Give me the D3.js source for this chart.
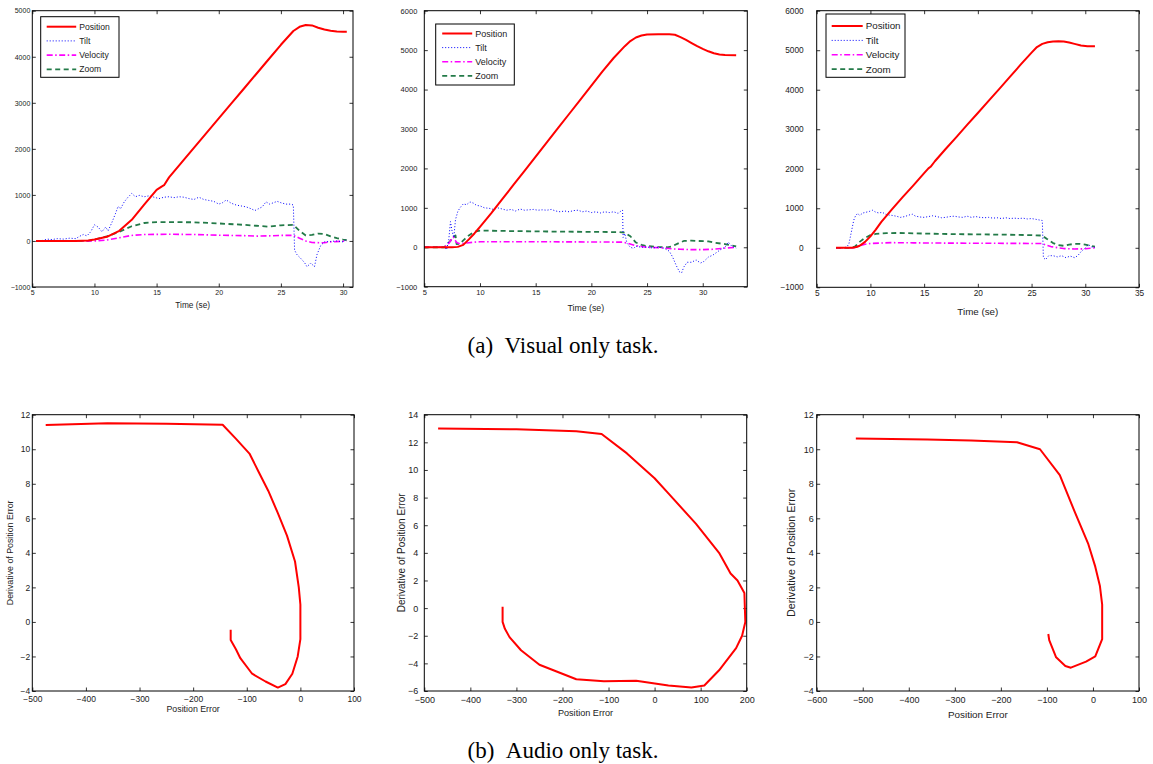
<!DOCTYPE html>
<html>
<head>
  <meta charset="UTF-8">
  <title>Visual and audio only tasks</title>
  <style>
    body {
      margin: 0;
      padding: 0;
      background: #fff;
    }
    svg text {
      font-family: "Liberation Sans", Arial, Helvetica, sans-serif;
      fill: #222;
    }
    .caption {
      font-family: "Liberation Serif", "Times New Roman", serif !important;
      fill: #000 !important;
    }
  </style>
</head>
<body>
  <script src="https://d3js.org/d3.v7.min.js"></script>
  <script>
    // ---- data: (a) visual only task, [time, value]
    let pos1 = [[5.3,0],[8.5,0],[9.5,10],[10,30],[11,90],[12,220],[13,460],[14,790],[15,1110],[15.4,1180],[15.6,1210],[16,1380],[17,1700],[18,2020],[19,2340],[20,2660],[21,2980],[22,3300],[23,3620],[24,3940],[25,4260],[26,4560],[26.5,4650],[27,4688],[27.5,4680],[28,4630],[28.5,4590],[29,4565],[29.5,4550],[30,4545],[30.3,4545]];
    let tilt1 = [[5.3,0],[5.8,10],[6.2,40],[6.6,30],[7,50],[7.5,40],[8,60],[8.5,50],[8.8,100],[9.1,140],[9.4,110],[9.7,200],[10,350],[10.3,300],[10.6,200],[10.9,300],[11.1,220],[11.4,400],[11.7,600],[11.9,750],[12.1,700],[12.4,850],[12.7,950],[13,1030],[13.3,960],[13.6,990],[14,960],[14.4,980],[14.8,950],[15.2,920],[15.6,950],[16,960],[16.4,940],[16.8,960],[17.2,950],[17.6,920],[18,900],[18.4,950],[18.8,900],[19.2,880],[19.6,860],[20,800],[20.3,830],[20.6,890],[21,820],[21.4,780],[21.8,760],[22.2,740],[22.6,700],[22.9,660],[23.2,700],[23.5,740],[23.8,850],[24.1,800],[24.4,830],[24.7,860],[25,830],[25.4,800],[25.8,800],[26,780],[26.1,-200],[26.3,-300],[26.6,-380],[26.9,-470],[27.1,-560],[27.4,-480],[27.7,-560],[27.9,-300],[28.2,-100],[28.5,-20],[29,-10],[29.5,0],[30,-20],[30.3,40]];
    let vel1 = [[5.3,0],[10,0],[11,20],[12,70],[13,120],[14,140],[16,145],[18,140],[20,125],[22,115],[23,105],[24,110],[25,120],[26,120],[26.5,60],[27,0],[27.5,-35],[28.5,-40],[29,-20],[30,-5],[30.3,0]];
    let zoom1 = [[5.3,0],[9.5,0],[10,30],[11,100],[12,200],[13,320],[14,390],[15,410],[16,410],[18,405],[20,380],[22,350],[23,330],[24,310],[25,340],[26,350],[26.5,220],[27,120],[27.5,130],[28,160],[28.5,150],[29,100],[29.5,60],[30,30],[30.3,20]];

    let pos2 = [[5,0],[7.5,0],[8,10],[8.5,60],[9,200],[9.5,350],[10,520],[11,860],[12,1220],[13,1580],[14,1940],[15,2300],[16,2660],[17,3020],[18,3380],[19,3740],[20,4100],[21,4460],[22,4800],[23,5100],[23.5,5230],[24,5320],[24.5,5370],[25,5395],[26,5400],[27,5400],[27.5,5390],[28,5330],[28.5,5260],[29,5180],[29.5,5100],[30,5030],[30.5,4970],[31,4920],[31.5,4890],[32,4875],[33,4870]];
    let tilt2 = [[5,0],[6,0],[6.8,0],[7,-60],[7.2,200],[7.35,650],[7.5,400],[7.65,250],[7.8,700],[8,900],[8.2,1000],[8.5,1100],[8.8,1080],[9.1,1150],[9.4,1120],[9.7,1060],[10,1050],[10.4,1000],[10.8,990],[11.2,960],[11.6,1000],[12,970],[12.4,940],[12.8,960],[13.2,920],[13.6,970],[14,940],[14.4,950],[14.8,960],[15.2,940],[15.6,950],[16,940],[16.4,960],[16.8,920],[17.2,900],[17.6,920],[18,900],[18.4,930],[18.8,940],[19.2,900],[19.6,920],[20,880],[20.4,900],[20.8,870],[21.2,900],[21.6,880],[22,900],[22.4,860],[22.7,930],[22.8,940],[22.85,250],[23,350],[23.2,100],[23.5,0],[23.8,-30],[24,30],[24.5,0],[25,10],[25.5,-20],[26,0],[26.5,-20],[27,-100],[27.3,-250],[27.6,-450],[27.9,-620],[28.1,-650],[28.3,-500],[28.6,-380],[29,-380],[29.4,-320],[29.8,-400],[30.1,-360],[30.5,-250],[30.9,-200],[31.3,-120],[31.6,-60],[32,0],[32.3,130],[32.6,30],[33,-20]];
    let vel2 = [[5,0],[6.8,0],[7.2,100],[7.6,260],[7.9,120],[8.2,90],[8.8,110],[9.5,130],[10,140],[15,140],[20,135],[22.8,130],[23.3,100],[24,40],[24.5,20],[25,0],[26,-10],[27,-30],[27.5,-45],[28,-50],[29,-60],[30,-60],[31,-50],[32,-20],[33,0]];
    let zoom2 = [[5,0],[6.8,0],[7.3,150],[7.6,250],[7.8,300],[7.9,80],[8.2,90],[8.6,200],[9,300],[9.5,390],[10,420],[11,420],[13,410],[16,400],[20,390],[22.5,385],[23,370],[23.5,280],[24,120],[24.5,60],[25,30],[26,10],[26.8,0],[27.2,20],[27.8,100],[28.3,160],[29,170],[29.5,160],[30.5,150],[31,120],[32,80],[33,20]];

    let pos3 = [[6.8,0],[8.3,0],[8.7,20],[9,50],[9.5,150],[10,290],[10.5,460],[11,650],[12,970],[13,1280],[14,1580],[15,1890],[15.4,2010],[15.6,2050],[16,2190],[17,2500],[18,2800],[19,3110],[20,3410],[21,3720],[22,4020],[23,4330],[24,4640],[25,4940],[25.5,5080],[26,5160],[26.5,5200],[27,5220],[27.5,5225],[28,5220],[28.5,5195],[29,5160],[29.6,5120],[30.2,5100],[30.9,5100]];
    let tilt3 = [[6.8,0],[7.5,0],[7.8,20],[8,100],[8.15,300],[8.3,500],[8.45,700],[8.6,800],[8.8,870],[9,820],[9.3,880],[9.6,900],[9.9,920],[10.2,950],[10.5,900],[10.8,880],[11.1,900],[11.4,850],[11.7,830],[12,820],[12.4,800],[12.8,770],[13.2,790],[13.6,830],[13.9,850],[14.2,800],[14.6,780],[15,770],[15.4,790],[15.8,810],[16.2,790],[16.6,760],[17,770],[17.4,790],[17.8,800],[18.2,780],[18.6,770],[19,800],[19.4,770],[19.8,790],[20.2,770],[20.6,760],[21,770],[21.4,750],[21.8,760],[22.2,740],[22.6,760],[23,740],[23.4,750],[23.8,740],[24.2,750],[24.6,730],[25,740],[25.4,720],[25.8,700],[26,690],[26.1,-250],[26.3,-300],[26.6,-200],[27,-200],[27.4,-230],[27.8,-200],[28.2,-250],[28.6,-210],[29,-250],[29.3,-200],[29.6,-100],[30,0],[30.3,80],[30.6,20],[30.9,0]];
    let vel3 = [[6.8,0],[8.5,0],[9,50],[9.5,90],[10,110],[11,120],[12,130],[14,125],[16,120],[20,115],[25,110],[26,110],[26.3,70],[26.8,30],[27.5,0],[28,-20],[29,-30],[30,-25],[30.9,0]];
    let zoom3 = [[6.8,0],[8.3,0],[8.6,40],[9,150],[9.5,250],[10,320],[10.5,350],[11.5,370],[12.5,375],[15,360],[18,345],[20,340],[23,330],[25,320],[26,310],[26.4,230],[27,120],[27.5,70],[28,50],[28.5,80],[29,100],[29.5,100],[30,80],[30.5,50],[30.9,30]];

    // ---- data: (b) audio only task, [position error, derivative]
    let phase1 = [[-475,11.4],[-360,11.5],[-250,11.47],[-145,11.42],[-120,10.6],[-95,9.75],[-78,8.7],[-60,7.6],[-42,6.3],[-25,5],[-10,3.5],[-3,2],[0,1],[0,-1],[-5,-2],[-15,-3],[-28,-3.6],[-42,-3.8],[-65,-3.45],[-90,-3],[-112,-2.1],[-120,-1.6],[-130,-1.05],[-130,-0.45]];
    let phase2 = [[-470,13.0],[-300,12.95],[-170,12.8],[-115,12.6],[-60,11.2],[0,9.4],[30,8.3],[90,6.1],[140,4],[165,2.5],[180,2],[195,1.1],[197,-1],[190,-2],[177,-2.9],[140,-4.5],[108,-5.6],[80,-5.75],[30,-5.6],[-40,-5.25],[-110,-5.3],[-170,-5.15],[-250,-4.1],[-290,-3.05],[-315,-2.1],[-325,-1.5],[-330,-1.0],[-330,0.1]];
    let phase3 = [[-515,10.62],[-360,10.56],[-265,10.5],[-165,10.4],[-115,10.0],[-72,8.5],[-40,6.4],[-10,4.5],[5,3.2],[15,2.1],[20,1],[20,-1],[5,-2],[-15,-2.3],[-48,-2.65],[-60,-2.55],[-80,-2.05],[-95,-1.05],[-97,-0.7]];

    // ---- ticks
    let timeTicks1 = [5, 10, 15, 20, 25, 30];
    let timeTicks3 = [5, 10, 15, 20, 25, 30, 35];
    let valTicks5 = [-1000, 0, 1000, 2000, 3000, 4000, 5000];
    let valTicks6 = [-1000, 0, 1000, 2000, 3000, 4000, 5000, 6000];
    let errTicks1 = [-500, -400, -300, -200, -100, 0, 100];
    let errTicks2 = [-500, -400, -300, -200, -100, 0, 100, 200];
    let errTicks3 = [-600, -500, -400, -300, -200, -100, 0, 100];
    let derTicks12 = [-4, -2, 0, 2, 4, 6, 8, 10, 12];
    let derTicks14 = [-6, -4, -2, 0, 2, 4, 6, 8, 10, 12, 14];

    let seriesNames = ["Position", "Tilt", "Velocity", "Zoom"];
    let captions = ["(a)\u2002Visual only task.", "(b)\u2002Audio only task."];

    let styles = {
      Position: { color: "#ff0000", width: 2, dash: null },
      Tilt: { color: "#0000ff", width: 1, dash: "1,2" },
      Velocity: { color: "#ff00ff", width: 1.6, dash: "6,2.5,1.5,2.5" },
      Zoom: { color: "#237a48", width: 1.8, dash: "5,3.5" }
    };

    let width = 1153, height = 764;
    let svg = d3.select("body").append("svg")
        .attr("width", width)
        .attr("height", height);

    function panel(p) {
      let x = d3.scaleLinear().domain(p.xd).range([p.x0, p.x1]);
      let y = d3.scaleLinear().domain(p.yd).range([p.y1, p.y0]);
      let g = svg.append("g");
      let fmt = d3.format("d");

      // inward ticks on all four sides, labels left and bottom only
      g.append("g").attr("transform", "translate(0," + p.y1 + ")")
        .call(d3.axisBottom(x).tickValues(p.xt).tickFormat(fmt).tickSizeInner(-3.5).tickSizeOuter(0).tickPadding(p.xpad))
        .call(a => a.selectAll("text").style("font-size", p.font + "px"));
      g.append("g").attr("transform", "translate(0," + p.y0 + ")")
        .call(d3.axisTop(x).tickValues(p.xt).tickFormat("").tickSizeInner(-3.5).tickSizeOuter(0));
      g.append("g").attr("transform", "translate(" + p.x0 + ",0)")
        .call(d3.axisLeft(y).tickValues(p.yt).tickFormat(fmt).tickSizeInner(-3.5).tickSizeOuter(0).tickPadding(p.ypad))
        .call(a => a.selectAll("text").style("font-size", p.font + "px"));
      g.append("g").attr("transform", "translate(" + p.x1 + ",0)")
        .call(d3.axisRight(y).tickValues(p.yt).tickFormat("").tickSizeInner(-3.5).tickSizeOuter(0));
      g.selectAll(".domain").remove();
      g.selectAll(".tick line").attr("stroke", "#000").attr("stroke-width", 0.8);

      let line = d3.line().x(d => x(d[0])).y(d => y(d[1]));
      p.series.forEach(s => {
        let st = styles[s.name];
        g.append("path")
          .datum(s.data)
          .attr("d", line)
          .attr("fill", "none")
          .attr("stroke", st.color)
          .attr("stroke-width", st.width)
          .attr("stroke-dasharray", st.dash)
          .attr("stroke-linejoin", "round");
      });

      g.append("rect")
        .attr("x", p.x0).attr("y", p.y0)
        .attr("width", p.x1 - p.x0).attr("height", p.y1 - p.y0)
        .attr("fill", "none").attr("stroke", "#000").attr("stroke-width", 1);

      g.append("text")
        .attr("x", (p.x0 + p.x1) / 2).attr("y", p.xlabY)
        .attr("text-anchor", "middle")
        .style("font-size", p.labFont + "px")
        .text(p.xlab);

      if (p.ylab) {
        g.append("text")
          .attr("transform", "translate(" + p.ylabX + "," + (p.y0 + p.y1) / 2 + ") rotate(-90)")
          .attr("text-anchor", "middle")
          .style("font-size", p.ylabFont + "px")
          .text(p.ylab);
      }

      if (p.legend) {
        let L = p.legend;
        g.append("rect")
          .attr("x", L.x).attr("y", L.y).attr("width", L.w).attr("height", L.h)
          .attr("fill", "#fff").attr("stroke", "#000").attr("stroke-width", 1);
        seriesNames.forEach((n, i) => {
          let st = styles[n];
          let ry = L.y + L.top + i * L.step;
          g.append("line")
            .attr("x1", L.x + L.l0).attr("x2", L.x + L.l1)
            .attr("y1", ry).attr("y2", ry)
            .attr("stroke", st.color).attr("stroke-width", st.width)
            .attr("stroke-dasharray", st.dash);
          g.append("text")
            .attr("x", L.x + L.l1 + 3).attr("y", ry)
            .attr("dy", "0.35em")
            .style("font-size", L.font + "px")
            .text(n);
        });
      }
    }

    function visSeries(pos, tilt, vel, zoom) {
      return [
        { name: "Zoom", data: zoom },
        { name: "Velocity", data: vel },
        { name: "Tilt", data: tilt },
        { name: "Position", data: pos }
      ];
    }

    panel({ x0: 32.3, x1: 353, y0: 10.7, y1: 287, xd: [5, 30.8], yd: [-1000, 5000],
      xt: timeTicks1, yt: valTicks5, font: 7, xpad: 3, ypad: 2,
      xlab: "Time (se)", xlabY: 308, labFont: 8.3,
      series: visSeries(pos1, tilt1, vel1, zoom1),
      legend: { x: 40.7, y: 16.7, w: 78.3, h: 60.6, top: 10, step: 14.2, l0: 6, l1: 35.5, font: 8.6 } });

    panel({ x0: 424.3, x1: 747.3, y0: 10.7, y1: 286.7, xd: [5, 34], yd: [-1000, 6000],
      xt: timeTicks1, yt: valTicks6, font: 7.5, xpad: 3, ypad: 7,
      xlab: "Time (se)", xlabY: 311, labFont: 8.8,
      series: visSeries(pos2, tilt2, vel2, zoom2),
      legend: { x: 435.7, y: 24, w: 78.6, h: 61, top: 9.5, step: 14.1, l0: 6.5, l1: 36.5, font: 9 } });

    panel({ x0: 816.7, x1: 1139, y0: 10.7, y1: 287.3, xd: [5, 35], yd: [-1000, 6000],
      xt: timeTicks3, yt: valTicks6, font: 8.3, xpad: 3, ypad: 13,
      xlab: "Time (se)", xlabY: 315, labFont: 9.8,
      series: visSeries(pos3, tilt3, vel3, zoom3),
      legend: { x: 826, y: 14, w: 79, h: 63.3, top: 12, step: 14.4, l0: 5.7, l1: 36.7, font: 9.8 } });

    panel({ x0: 32.3, x1: 354, y0: 414.7, y1: 691, xd: [-500, 100], yd: [-4, 12],
      xt: errTicks1, yt: derTicks12, font: 8.5, xpad: 5, ypad: 2,
      xlab: "Position Error", xlabY: 712, labFont: 8.8,
      ylab: "Derivative of Position Error", ylabX: 13, ylabFont: 8.8,
      series: [{ name: "Position", data: phase1 }] });

    panel({ x0: 424.3, x1: 746.7, y0: 414.7, y1: 691, xd: [-500, 200], yd: [-6, 14],
      xt: errTicks2, yt: derTicks14, font: 9, xpad: 6, ypad: 6,
      xlab: "Position Error", xlabY: 716, labFont: 9.1,
      ylab: "Derivative of Position Error", ylabX: 405, ylabFont: 10,
      series: [{ name: "Position", data: phase2 }] });

    panel({ x0: 816.7, x1: 1139, y0: 414.7, y1: 691, xd: [-600, 100], yd: [-4, 12],
      xt: errTicks3, yt: derTicks12, font: 9, xpad: 6, ypad: 3,
      xlab: "Position Error", xlabY: 717.5, labFont: 9.9,
      ylab: "Derivative of Position Error", ylabX: 795, ylabFont: 10.8,
      series: [{ name: "Position", data: phase3 }] });

    svg.append("text").attr("class", "caption")
      .attr("x", 563).attr("y", 353)
      .attr("text-anchor", "middle")
      .style("font-size", "23px")
      .text(captions[0]);
    svg.append("text").attr("class", "caption")
      .attr("x", 563).attr("y", 758)
      .attr("text-anchor", "middle")
      .style("font-size", "23px")
      .text(captions[1]);
  </script>
</body>
</html>
